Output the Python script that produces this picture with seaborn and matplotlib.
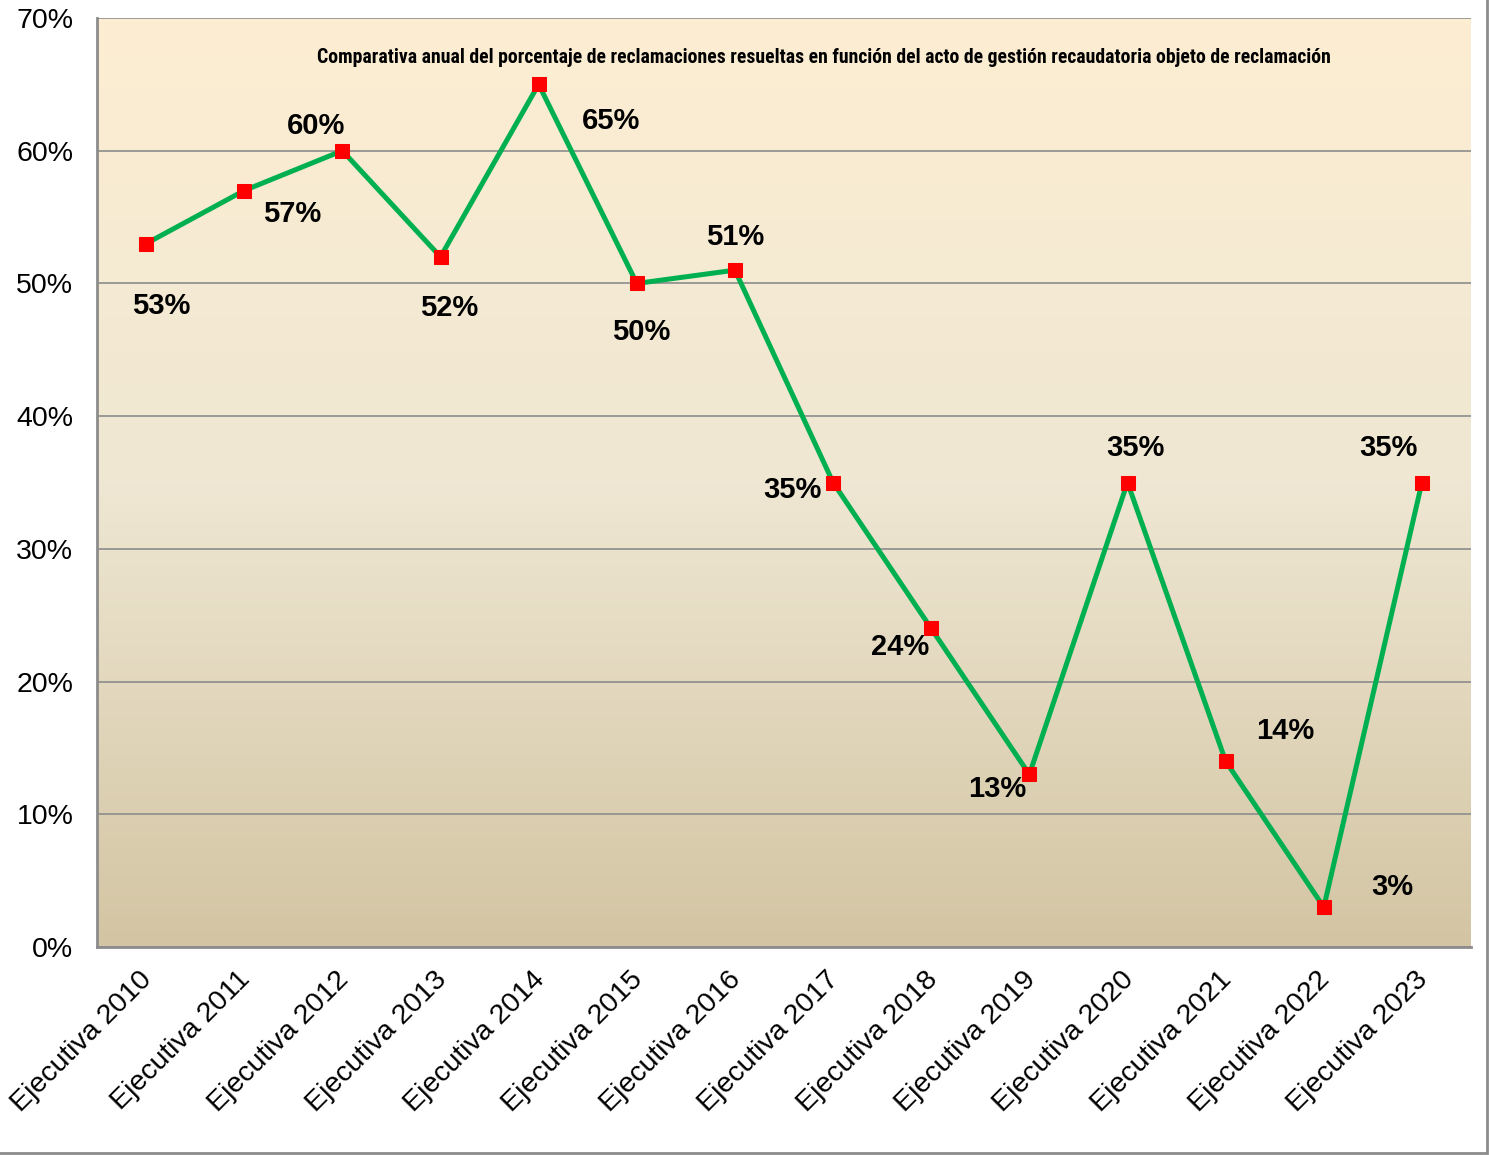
import numpy as np
import pandas as pd
import matplotlib
matplotlib.use("Agg")
import matplotlib.pyplot as plt
import matplotlib.ticker as mticker
import matplotlib.transforms as mtrans
from matplotlib import font_manager
from matplotlib.colors import LinearSegmentedColormap
import seaborn as sns

# data
years = ["Ejecutiva 2010", "Ejecutiva 2011", "Ejecutiva 2012", "Ejecutiva 2013",
         "Ejecutiva 2014", "Ejecutiva 2015", "Ejecutiva 2016", "Ejecutiva 2017",
         "Ejecutiva 2018", "Ejecutiva 2019", "Ejecutiva 2020", "Ejecutiva 2021",
         "Ejecutiva 2022", "Ejecutiva 2023"]
pct = [53, 57, 60, 52, 65, 50, 51, 35, 24, 13, 35, 14, 3, 35]
title = ("Comparativa anual del porcentaje de reclamaciones resueltas en función "
         "del acto de gestión recaudatoria objeto de reclamación")

# label offsets in pixels (dx, dy) from each point
label_off = [(15, -62), (48, -23), (-26, 25), (9, -51), (72, -37), (4, -49),
             (0, 33), (-41, -7), (-31, -19), (-32, -15), (8, 35), (60, 30),
             (69, 20), (-33, 35)]

df = pd.DataFrame({"cat": years, "val": np.array(pct) / 100})

sns.set_style("white")
plt.rcParams["font.family"] = ["Liberation Sans", "DejaVu Sans"]

# narrow font for the title if one is there
names = {fe.name for fe in font_manager.fontManager.ttflist}
title_font, title_size = "Liberation Sans", 12.2
for cand in ["Liberation Sans Narrow", "DejaVu Sans Condensed", "Roboto Condensed"]:
    if cand in names:
        title_font, title_size = cand, 14.2
        break

f = plt.figure(figsize=(14.89, 11.56), dpi=100)
ax = f.add_axes([97 / 1489, 1 - 947 / 1156, 1374 / 1489, 929 / 1156])

# gradient plot area
cmap = LinearSegmentedColormap.from_list("bg", ["#fdeed2", "#efe7d3", "#d3c5a3"])
grad = np.linspace(0, 1, 256).reshape(-1, 1)
ax.imshow(grad, cmap=cmap, aspect="auto", extent=[0, 1, 0, 1], origin="upper",
          transform=ax.transAxes, zorder=0)

sns.lineplot(data=df, x="cat", y="val", ax=ax, color="#00b050", lw=3.6,
             marker="s", markersize=10, markerfacecolor="#ff0000",
             markeredgecolor="#ff0000", zorder=3, sort=False)

for i, v in enumerate(df["val"]):
    dx, dy = label_off[i]
    ax.annotate(f"{pct[i]}%", (i, v), xytext=(dx, dy), textcoords="offset pixels",
                ha="center", va="center", fontsize=21, fontweight="bold",
                color="black", zorder=4)

ax.set_xlim(-0.5, len(years) - 0.5)
ax.set_ylim(0, 0.7)
ax.yaxis.set_major_locator(mticker.MultipleLocator(0.1))
ax.yaxis.set_major_formatter(mticker.PercentFormatter(1.0, decimals=0))
ax.grid(axis="y", color="#8c8c8c", lw=1.2, zorder=1)
ax.set_axisbelow(True)

ax.set_xticks(range(len(years)))
ax.set_xticklabels(years, rotation=45, ha="right", rotation_mode="anchor")
ax.set_xticks(np.arange(-0.5, len(years)), minor=True)
ax.tick_params(axis="x", which="major", length=0, pad=14, labelsize=20.5, labelcolor="black")
ax.tick_params(axis="x", which="minor", length=8, width=1.5, color="#8c8c8c")
ax.tick_params(axis="y", length=8, width=1.5, color="#8c8c8c", labelsize=20.5,
               pad=9, labelcolor="black")
ax.set_xlabel("")
ax.set_ylabel("")

shift = mtrans.ScaledTranslation(-7 / 100, 0, f.dpi_scale_trans)
for lab in ax.get_xticklabels():
    lab.set_transform(lab.get_transform() + shift)

for s in ["top", "right"]:
    ax.spines[s].set_visible(False)
for s in ["left", "bottom"]:
    ax.spines[s].set_color("#8c8c8c")
    ax.spines[s].set_linewidth(2)

ax.text(0.529, 0.958, title, transform=ax.transAxes, ha="center", va="center",
        fontsize=title_size, fontweight="bold", family=[title_font, "DejaVu Sans"],
        color="black", zorder=4)

# outer chart border
f.patches.append(plt.Rectangle((-0.01, 3 / 1156), 1487 / 1489 + 0.01, 1, fill=False,
                               edgecolor="#8c8c8c", lw=2, transform=f.transFigure))

f.savefig("out.png", dpi=100)
